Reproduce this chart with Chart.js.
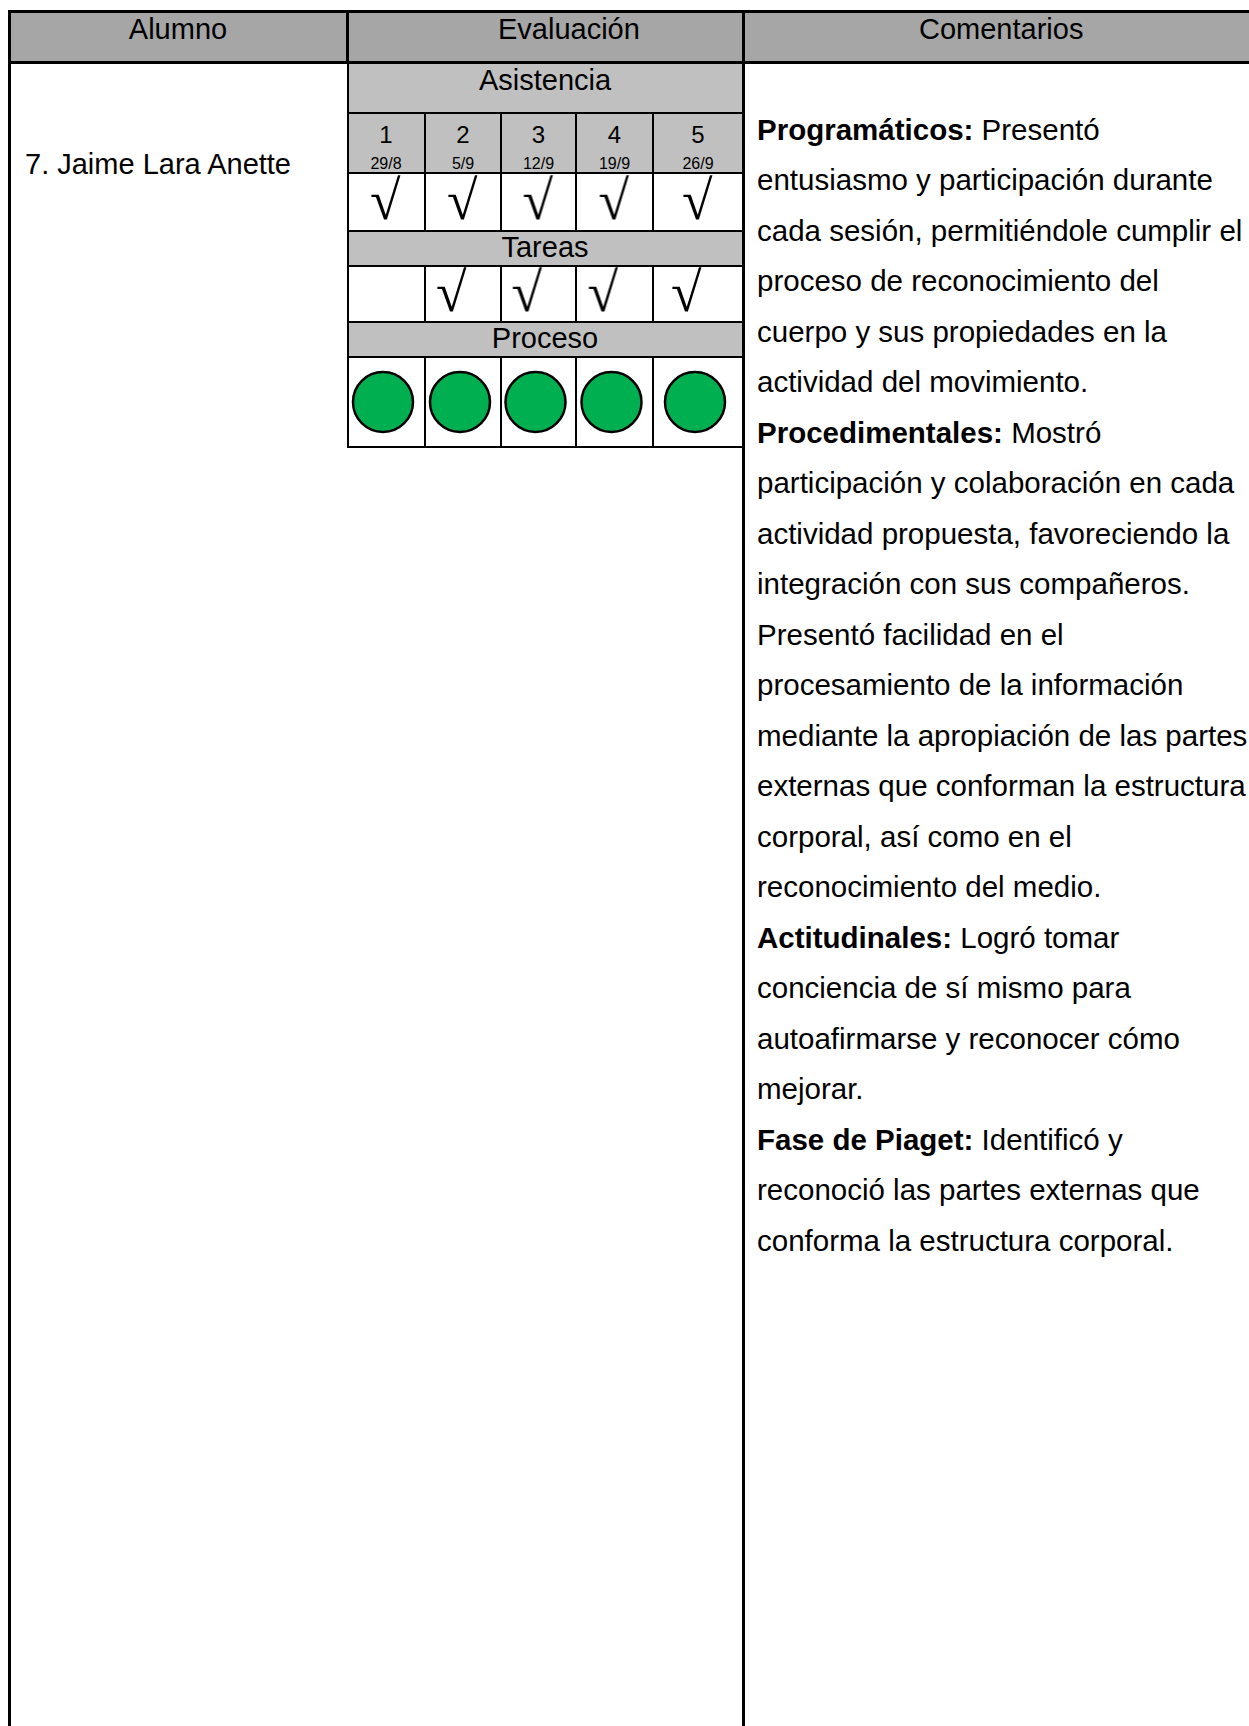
<!DOCTYPE html>
<html lang="es">
<head>
<meta charset="utf-8">
<title>Evaluación - 7. Jaime Lara Anette</title>
<script src="https://cdn.jsdelivr.net/npm/chart.js@4.4.0/dist/chart.umd.min.js"></script>
<style>
html, body { margin: 0; padding: 0; background: #fff; }
body {
    width: 1249px; height: 1726px; position: relative; overflow: hidden;
    font-family: "Liberation Sans", Arial, sans-serif; color: #000;
}
.ln { position: absolute; background: #000; }
.fill { position: absolute; }
.txt { position: absolute; line-height: 1; white-space: nowrap; }
.centro { text-align: center; }
#comentarios {
    position: absolute; left: 757px; top: 104.5px;
    font-size: 29.5px; line-height: 50.5px; white-space: nowrap;
}
canvas { position: absolute; }
</style>
</head>
<body>

<!-- encabezado -->
<div class="fill" style="left:8px; top:10px; width:1241px; height:54px; background:#a6a6a6;"></div>
<div class="txt centro" style="left:9px; width:338px; top:14.8px; font-size:29px;">Alumno</div>
<div class="txt" style="left:498px; top:14.8px; font-size:29px;">Evaluación</div>
<div class="txt" style="left:919px; top:14.8px; font-size:29px;">Comentarios</div>

<div class="txt" style="left:25px; top:149.5px; font-size:29px;">7. Jaime Lara Anette</div>

<div id="comentarios">
<b>Programáticos:</b> Presentó<br>
entusiasmo y participación durante<br>
cada sesión, permitiéndole cumplir el<br>
proceso de reconocimiento del<br>
cuerpo y sus propiedades en la<br>
actividad del movimiento.<br>
<b>Procedimentales:</b> Mostró<br>
participación y colaboración en cada<br>
actividad propuesta, favoreciendo la<br>
integración con sus compañeros.<br>
Presentó facilidad en el<br>
procesamiento de la información<br>
mediante la apropiación de las partes<br>
externas que conforman la estructura<br>
corporal, así como en el<br>
reconocimiento del medio.<br>
<b>Actitudinales:</b> Logró tomar<br>
conciencia de sí mismo para<br>
autoafirmarse y reconocer cómo<br>
mejorar.<br>
<b>Fase de Piaget:</b> Identificó y<br>
reconoció las partes externas que<br>
conforma la estructura corporal.
</div>

<div id="evaluacion"></div>

<script>
// datos
const sesiones = ['1', '2', '3', '4', '5'];
const fechas = ['29/8', '5/9', '12/9', '19/9', '26/9'];
const asistencia = [1, 1, 1, 1, 1];
const tareas = [0, 1, 1, 1, 1];
const proceso = [1, 1, 1, 1, 1];   // 1 = verde (logrado)

// disposición de la tabla de evaluación
const X0 = 347;
const anchoCol = [78, 76, 75, 77, 90];
const anchoTotal = anchoCol.reduce((a, b) => a + b, 0);
const bordes = [0];
anchoCol.forEach(w => bordes.push(bordes[bordes.length - 1] + w));

const cont = document.getElementById('evaluacion');

function div(cls, css, texto) {
    const d = document.createElement('div');
    d.className = cls;
    d.style.cssText = css;
    if (texto !== undefined) d.textContent = texto;
    cont.appendChild(d);
    return d;
}
function hline(x, y, w, t) { div('ln', `left:${x}px;top:${y - t / 2}px;width:${w}px;height:${t}px;`); }
function vline(x, y, h, t) { div('ln', `left:${x - t / 2}px;top:${y}px;width:${t}px;height:${h}px;`); }

// fondos grises
const gris = '#c0c0c0';
div('fill', `left:${X0}px;top:64px;width:${anchoTotal}px;height:109px;background:${gris};`);
div('fill', `left:${X0}px;top:231px;width:${anchoTotal}px;height:35px;background:${gris};`);
div('fill', `left:${X0}px;top:322px;width:${anchoTotal}px;height:35px;background:${gris};`);

// títulos de las bandas
div('txt centro', `left:${X0}px;width:${anchoTotal}px;top:65.5px;font-size:29px;`, 'Asistencia');
div('txt centro', `left:${X0}px;width:${anchoTotal}px;top:232.5px;font-size:29px;`, 'Tareas');
div('txt centro', `left:${X0}px;width:${anchoTotal}px;top:323.5px;font-size:29px;`, 'Proceso');

// número de sesión y fecha
sesiones.forEach((s, i) => {
    const x = X0 + bordes[i];
    div('txt centro', `left:${x}px;width:${anchoCol[i]}px;top:122.7px;font-size:24px;`, s);
    div('txt centro', `left:${x}px;width:${anchoCol[i]}px;top:155.5px;font-size:16px;`, fechas[i]);
});

// líneas de la tabla interna
[113, 173, 231, 266, 322, 357, 447].forEach(y => hline(X0, y, anchoTotal + 1, 2));
vline(X0 + 1, 62, 386, 2);
[[113, 118], [266, 56], [357, 90]].forEach(([y, h]) => {
    bordes.slice(1, -1).forEach(b => vline(X0 + b, y, h, 2));
});

// líneas exteriores
hline(8, 11.5, 1241, 3);
hline(8, 62.5, 1241, 3);
vline(9.5, 10, 1716, 3);
vline(347.5, 10, 54, 3);
vline(743.5, 10, 1716, 3);

// símbolo de visto (√) como imagen para pointStyle
function crearVisto(alto, subir) {
    const fuente = '"Liberation Serif", "DejaVu Serif", serif';
    const c = document.createElement('canvas');
    let g = c.getContext('2d');
    g.font = '100px ' + fuente;
    let m = g.measureText('\u221A');
    const tam = 100 * alto / (m.actualBoundingBoxAscent + m.actualBoundingBoxDescent);
    g.font = tam + 'px ' + fuente;
    m = g.measureText('\u221A');
    const w = Math.ceil(m.actualBoundingBoxLeft + m.actualBoundingBoxRight) + 2;
    const h = Math.ceil(m.actualBoundingBoxAscent + m.actualBoundingBoxDescent) + 2;
    c.width = w;
    c.height = h + subir * 2;
    g = c.getContext('2d');
    g.font = tam + 'px ' + fuente;
    g.fillStyle = '#000';
    g.fillText('\u221A', m.actualBoundingBoxLeft + 1, m.actualBoundingBoxAscent + 1);
    return c;
}
const visto = crearVisto(45, 4.5);

function filaMarcas(top, alto, valores, dx, estilo) {
    const cv = document.createElement('canvas');
    cv.width = anchoTotal;
    cv.height = alto;
    cv.style.left = X0 + 'px';
    cv.style.top = top + 'px';
    document.body.appendChild(cv);

    const puntos = [];
    valores.forEach((v, i) => {
        if (v) puntos.push({ x: bordes[i] + anchoCol[i] / 2 + dx, y: 0 });
    });

    return new Chart(cv, {
        type: 'scatter',
        data: {
            datasets: [Object.assign({ data: puntos, clip: false }, estilo)]
        },
        options: {
            responsive: false,
            animation: false,
            devicePixelRatio: 1,
            layout: { padding: 0, autoPadding: false },
            events: [],
            plugins: { legend: { display: false }, tooltip: { enabled: false } },
            scales: {
                x: { type: 'linear', min: 0, max: anchoTotal, display: false },
                y: { type: 'linear', min: -1, max: 1, display: false }
            }
        }
    });
}

const estiloVisto = { pointStyle: visto, pointRadius: 10 };
filaMarcas(173, 58, asistencia, 0, estiloVisto);
filaMarcas(266, 56, tareas, -11, estiloVisto);
filaMarcas(357, 90, proceso, -3, {
    pointStyle: 'circle',
    pointRadius: 30,
    pointBackgroundColor: '#00b050',
    pointBorderColor: '#000',
    pointBorderWidth: 2.5
});
</script>
</body>
</html>
